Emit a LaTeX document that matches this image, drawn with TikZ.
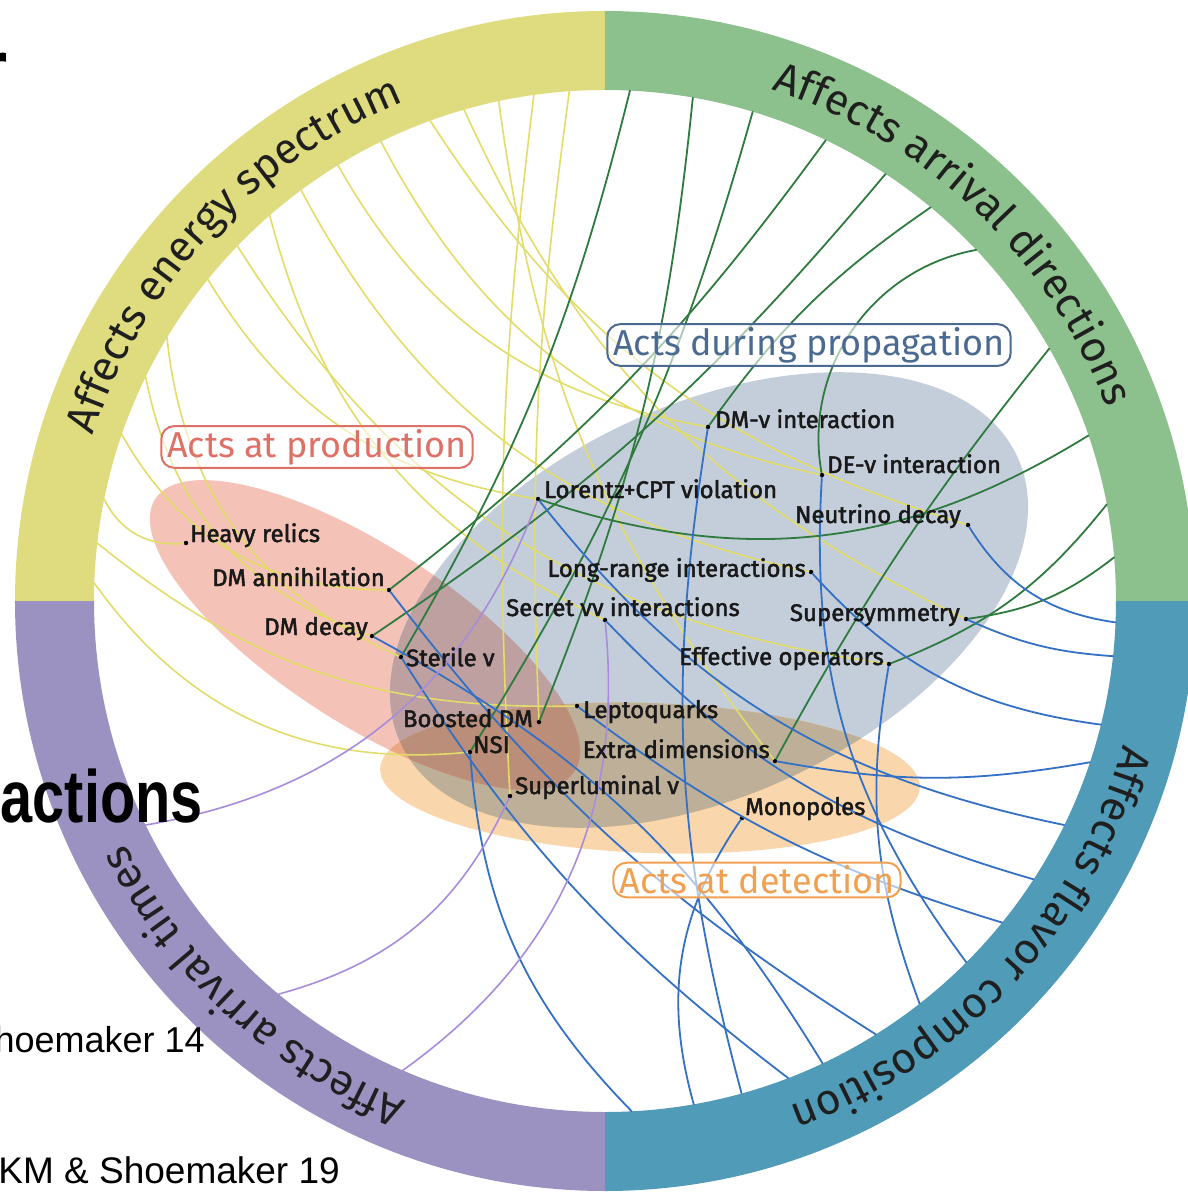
\documentclass[tikz,border=0pt]{standalone}
\usepackage{fontspec}
\usepackage{graphicx}
\setmainfont{Fira Sans}
\newfontfamily\labfont{Fira Sans}[FakeBold=2]
\newfontfamily\slidefont{Liberation Sans}
\usetikzlibrary{decorations.text}

% ring bands
\definecolor{bandE}{RGB}{222,220,126}
\definecolor{bandD}{RGB}{140,192,140}
\definecolor{bandF}{RGB}{80,155,184}
\definecolor{bandT}{RGB}{155,146,194}
% connectors
\definecolor{lineE}{RGB}{226,220,104}
\definecolor{lineD}{RGB}{47,122,62}
\definecolor{lineF}{RGB}{52,112,196}
\definecolor{lineT}{RGB}{168,140,220}
% regions and their overlaps
\definecolor{pinkF}{RGB}{244,194,182}
\definecolor{blueF}{RGB}{196,206,218}
\definecolor{orangeF}{RGB}{250,214,172}
\definecolor{pbF}{RGB}{190,160,160}
\definecolor{boF}{RGB}{190,176,152}
\definecolor{poF}{RGB}{236,168,132}
\definecolor{pboF}{RGB}{186,142,120}
% region labels
\definecolor{prodC}{RGB}{222,112,102}
\definecolor{propC}{RGB}{75,106,146}
\definecolor{detC}{RGB}{240,160,80}

\newcommand\ringfont{\fontsize{43}{45}\selectfont}
\newcommand\pinkshape[1]{\path[#1,shift={(-240,-34)},rotate=-33] (0,0) ellipse[x radius=250,y radius=88];}
\newcommand\blueshape[1]{\path[#1,shift={(104,1)},rotate=25] (0,0) ellipse[x radius=340,y radius=195];}
\newcommand\orangeshape[1]{\path[#1,shift={(45,-177)},rotate=-2] (0,0) ellipse[x radius=270,y radius=75];}
% connector from a model to its point on the inner edge of the ring
\newcommand\lnk[4]{%
  \coordinate (#1#2) at (#3:511);
  \draw[#2link] (#1) to[bend left={#4}] (#1#2);
}

\begin{document}
\begin{tikzpicture}[x=1pt,y=1pt]
\tikzset{
  dot/.style={circle,fill=black,inner sep=0pt,minimum size=4.5pt},
  lab/.style={font=\labfont\fontsize{24}{26}\selectfont, text=black!90, inner sep=0pt},
  link/.style={line width=1.8pt, line cap=round},
  Elink/.style={link, draw=lineE, line width=1.6pt},
  Dlink/.style={link, draw=lineD},
  Flink/.style={link, draw=lineF},
  Tlink/.style={link, draw=lineT, line width=1.6pt},
  catbox/.style={draw, rounded corners=13pt, line width=2pt, fill=white, fill opacity=0.6,
    text opacity=1, inner xsep=6pt, inner ysep=3pt, font=\fontsize{36}{38}\selectfont},
  ringtext/.style={decorate, decoration={text along path, text align=center, text color=black!88}},
  slide/.style={inner sep=0pt, text=black}
}
\useasboundingbox (-605,-591) rectangle (583,601);
\fill[white] (-605,-591) rectangle (583,601);

% ---- regions ----
\pinkshape{fill=pinkF}
\blueshape{fill=blueF}
\orangeshape{fill=orangeF}
\begin{scope}\pinkshape{clip}\blueshape{fill=pbF}\end{scope}
\begin{scope}\blueshape{clip}\orangeshape{fill=boF}\end{scope}
\begin{scope}\pinkshape{clip}\orangeshape{fill=poF}\end{scope}
\begin{scope}\pinkshape{clip}\blueshape{clip}\orangeshape{fill=pboF}\end{scope}

% ---- ring ----
\fill[bandE] (90:590) arc[start angle=90,end angle=180,radius=590] -- (180:511) arc[start angle=180,end angle=90,radius=511] -- cycle;
\fill[bandD] (0:590) arc[start angle=0,end angle=90,radius=590] -- (90:511) arc[start angle=90,end angle=0,radius=511] -- cycle;
\fill[bandF] (-90:590) arc[start angle=-90,end angle=0,radius=590] -- (0:511) arc[start angle=0,end angle=-90,radius=511] -- cycle;
\fill[bandT] (180:590) arc[start angle=180,end angle=270,radius=590] -- (270:511) arc[start angle=270,end angle=180,radius=511] -- cycle;

% ---- models ----
\node[dot] (hr)   at (-419,58) {};
\node[dot] (dma)  at (-216,11) {};
\node[dot] (dmd)  at (-233,-35) {};
\node[dot] (st)   at (-204,-56) {};
\node[dot] (lcpt) at (-67,102) {};
\node[dot] (dmn)  at (103,174) {};
\node[dot] (den)  at (217,126) {};
\node[dot] (nud)  at (363,76) {};
\node[dot] (lr)   at (206,29) {};
\node[dot] (sec)  at (0,-19) {};
\node[dot] (susy) at (361,-18) {};
\node[dot] (eff)  at (284,-63) {};
\node[dot] (lq)   at (-28,-105) {};
\node[dot] (bdm)  at (-66,-121) {};
\node[dot] (nsi)  at (-135,-151) {};
\node[dot] (xd)   at (170,-160) {};
\node[dot] (sl)   at (-95,-195) {};
\node[dot] (mono) at (137,-217) {};

% ---- energy spectrum ----
\lnk{hr}{E}{168.5}{35}
\lnk{dma}{E}{161}{30}
\lnk{dmd}{E}{154}{30}
\lnk{st}{E}{149}{30}
\lnk{lcpt}{E}{141}{25}
\lnk{eff}{E}{136}{25}
\lnk{sec}{E}{131}{25}
\lnk{lr}{E}{126.5}{25}
\lnk{dmn}{E}{121.5}{25}
\lnk{den}{E}{116}{25}
\lnk{nud}{E}{110}{20}
\lnk{susy}{E}{106}{20}
\lnk{xd}{E}{102}{15}
\lnk{sl}{E}{98}{5}
\lnk{bdm}{E}{94}{5}
\lnk{lq}{E}{173.5}{20}
\lnk{nsi}{E}{178}{30}

% ---- arrival directions ----
\lnk{st}{D}{87.2}{-8}
\lnk{bdm}{D}{80.1}{-8}
\lnk{nsi}{D}{73.2}{-8}
\lnk{dma}{D}{64.4}{-8}
\lnk{dmd}{D}{56.7}{-8}
\lnk{dmn}{D}{50.4}{10}
\lnk{den}{D}{43.4}{45}
\lnk{xd}{D}{29.6}{5}
\lnk{lcpt}{D}{18.9}{-25}
\lnk{eff}{D}{10.9}{-15}
\lnk{susy}{D}{4.9}{-15}

% ---- flavor composition ----
\lnk{nud}{F}{-2.4}{-25}
\lnk{susy}{F}{-6.2}{-10}
\lnk{lr}{F}{-14}{-20}
\lnk{xd}{F}{-18.4}{-10}
\lnk{lcpt}{F}{-26}{-20}
\lnk{sec}{F}{-33}{-15}
\lnk{lq}{F}{-39}{-10}
\lnk{den}{F}{-45}{-20}
\lnk{eff}{F}{-52}{-15}
\lnk{dma}{F}{-58}{-10}
\lnk{dmd}{F}{-64.8}{15}
\lnk{st}{F}{-69}{-10}
\lnk{dmn}{F}{-74.5}{-12}
\lnk{mono}{F}{-80}{-25}
\lnk{nsi}{F}{-87}{-20}

% ---- arrival times ----
\lnk{lcpt}{T}{-154}{30}
\lnk{sl}{T}{-129.7}{25}
\lnk{sec}{T}{-113.3}{30}

% ---- region labels ----
\node[catbox, draw=prodC, text=prodC] (prod) at (-288,154) {Acts at production};
\node[catbox, draw=propC, text=propC] (prop) at (204,256) {Acts during propagation};
\node[catbox, draw=detC, text=detC]   (det)  at (152,-279) {Acts at detection};

% ---- model names ----
\node[lab, anchor=base west] at ([shift={(4,1)}]hr.center) {Heavy relics};
\node[lab, anchor=base east] at ([shift={(-4,4)}]dma.center) {DM annihilation};
\node[lab, anchor=base east] at ([shift={(-4,1)}]dmd.center) {DM decay};
\node[lab, anchor=west] at ([shift={(5,0)}]st.center) {Sterile ν};
\node[lab, anchor=base west] at ([shift={(6,1)}]lcpt.center) {Lorentz+CPT violation};
\node[lab, anchor=base west] at ([shift={(7,-1)}]dmn.center) {DM-ν interaction};
\node[lab, anchor=base west] at ([shift={(5,2)}]den.center) {DE-ν interaction};
\node[lab, anchor=base east] at ([shift={(-7,2)}]nud.center) {Neutrino decay};
\node[lab, anchor=east] at ([shift={(-5,2)}]lr.center) {Long-range interactions};
\node[lab, anchor=base] at ([shift={(18,4)}]sec.center) {Secret νν interactions};
\node[lab, anchor=base east] at ([shift={(-6,-2)}]susy.center) {Supersymmetry};
\node[lab, anchor=base east] at ([shift={(-5,-1)}]eff.center) {Effective operators};
\node[lab, anchor=base west] at ([shift={(6,-12)}]lq.center) {Leptoquarks};
\node[lab, anchor=base east] at ([shift={(-6,-5)}]bdm.center) {Boosted DM};
\node[lab, anchor=base west] at ([shift={(3,-1)}]nsi.center) {NSI};
\node[lab, anchor=base east] at ([shift={(-5,3)}]xd.center) {Extra dimensions};
\node[lab, anchor=base west] at ([shift={(5,2)}]sl.center) {Superluminal ν};
\node[lab, anchor=base west] at ([shift={(3,3)}]mono.center) {Monopoles};

% ---- ring captions ----
\path[ringtext, decoration={text={|\ringfont|Affects energy spectrum}}] (177:538) arc[start angle=177,end angle=97,radius=538];
\path[ringtext, decoration={text={|\ringfont|Affects arrival directions}}] (86.5:538) arc[start angle=86.5,end angle=6.5,radius=538];
\path[ringtext, decoration={text={|\ringfont|Affects flavor composition}}] (-2.7:538) arc[start angle=-2.7,end angle=-82.7,radius=538];
\path[ringtext, decoration={text={|\ringfont|Affects arrival times}}] (-92.4:538) arc[start angle=-92.4,end angle=-172.4,radius=538];

% ---- slide text around the figure ----
\node[slide, anchor=base east, font=\slidefont\bfseries\fontsize{75}{80}\selectfont] (s1) at (-597,507) {r};
\node[slide, anchor=base east, font=\slidefont\bfseries\fontsize{74}{80}\selectfont] (s2) at (-402,-221) {\scalebox{0.78}[1]{actions}};
\node[slide, anchor=base east, font=\slidefont\fontsize{36}{40}\selectfont] (s3) at (-400,-451) {hoemaker 14};
\node[slide, anchor=base east, font=\slidefont\fontsize{37}{40}\selectfont] (s4) at (-265,-582) {KM \& Shoemaker 19};
\end{tikzpicture}
\end{document}
